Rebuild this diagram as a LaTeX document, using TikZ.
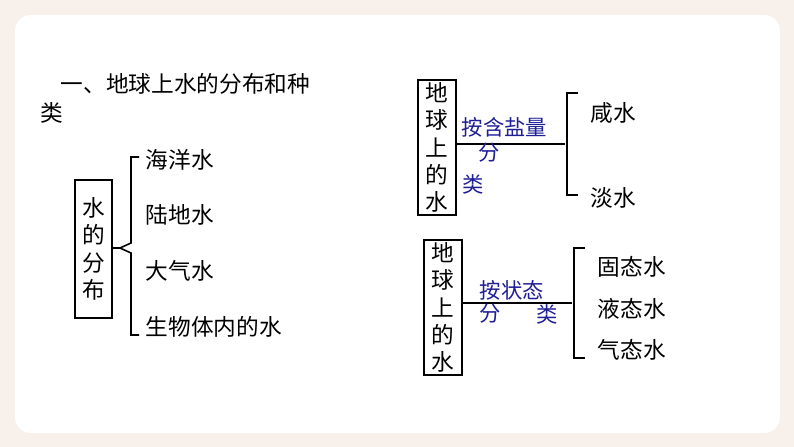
\documentclass[tikz,border=0pt]{standalone}
\usepackage{fontspec}
\setmainfont{Noto Sans CJK SC}
\definecolor{cream}{RGB}{248,241,235}
\definecolor{lblue}{RGB}{30,30,150}
\tikzset{every picture/.style={line width=1.2pt}}
\tikzset{
  txt/.style={anchor=west,inner sep=0pt,font=\fontsize{17}{20}\selectfont},
  lbl/.style={inner sep=0pt,text=lblue,font=\fontsize{16}{19}\selectfont},
  vbox/.style={draw,inner sep=0pt,align=center,font=\fontsize{17}{20.5}\selectfont}
}
\begin{document}
\begin{tikzpicture}[x=0.75pt,y=0.75pt,yscale=-1]
  \fill[cream] (0,0) rectangle (794,447);
  \useasboundingbox (0,0) rectangle (794,447);
  \fill[white,rounded corners=12pt] (15,15) rectangle (780,433);

  % Title
  \node[txt] (title) at (60,84) {一、地球上水的分布和种};
  \node[txt] (title2) at (40,113) {类};

  % left box and brace
  \draw (75,180) rectangle (112,318);
  \node[vbox,draw=none] (dist) at (93.5,249) {水\\的\\分\\布};
  \draw (112,248) -- (120,248);
  \draw (139,157) -- (131,157) -- (131,243) -- (120,248) -- (131,253) -- (131,335) -- (139,335);
  \node[txt] (sea) at (145,160) {海洋水};
  \node[txt] (land) at (145,215) {陆地水};
  \node[txt] (air) at (145,271) {大气水};
  \node[txt] (bio) at (145,327) {生物体内的水};

  % top right
  \draw (418,80) rectangle (456,215);
  \node[vbox,draw=none] (earthA) at (437,147.5) {地\\球\\上\\的\\水};
  \draw (456,144) -- (565,144);
  \draw (578,93) -- (567,93) -- (567,195) -- (578,195);
  \node[lbl,anchor=west] (saltA) at (461,127) {按含盐量};
  \node[lbl] (fenA) at (489,153) {分};
  \node[lbl] (leiA) at (473,184) {类};
  \node[txt] (salty) at (590,113) {咸水};
  \node[txt] (fresh) at (590,198) {淡水};

  % bottom right
  \draw (424,240) rectangle (462,375);
  \node[vbox,draw=none] (earthB) at (443,307.5) {地\\球\\上\\的\\水};
  \draw (462,303) -- (572,303);
  \draw (585,248) -- (574,248) -- (574,358) -- (585,358);
  \node[lbl,anchor=west] (stateB) at (479,290) {按状态};
  \node[lbl] (fenB) at (490,314) {分};
  \node[lbl] (leiB) at (547,314) {类};
  \node[txt] (solid) at (597,267) {固态水};
  \node[txt] (liquid) at (597,309) {液态水};
  \node[txt] (gas) at (597,350) {气态水};
\end{tikzpicture}
\end{document}
